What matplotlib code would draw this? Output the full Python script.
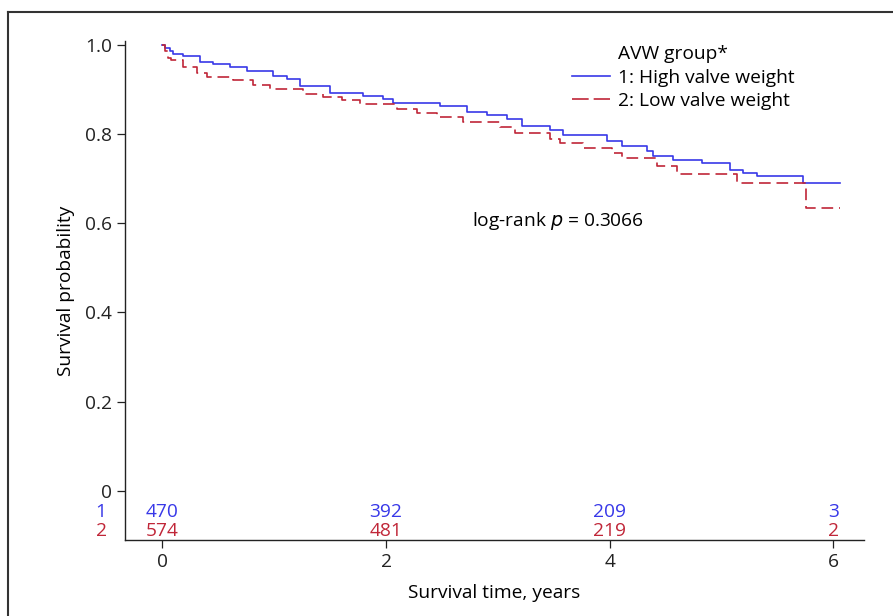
# Kaplan-Meier survival by AVW group
import matplotlib
matplotlib.use("Agg")
import matplotlib.pyplot as plt
from matplotlib.lines import Line2D

plt.rcParams['font.family'] = ['Open Sans', 'DejaVu Sans']

# group 1: high valve weight (step times in years, survival after step)
t_high = [0, 0.02, 0.07, 0.09, 0.18, 0.34, 0.45, 0.60, 0.76, 0.99, 1.11, 1.23,
          1.50, 1.79, 1.97, 2.06, 2.48, 2.72, 2.90, 3.08, 3.22, 3.47, 3.58,
          3.98, 4.11, 4.33, 4.39, 4.57, 4.83, 5.08, 5.19, 5.32, 5.73, 6.06]
s_high = [1.0, 0.992, 0.985, 0.979, 0.974, 0.961, 0.957, 0.949, 0.940, 0.929,
          0.922, 0.907, 0.892, 0.886, 0.878, 0.869, 0.862, 0.850, 0.843, 0.833,
          0.818, 0.808, 0.798, 0.783, 0.772, 0.761, 0.750, 0.742, 0.735, 0.720,
          0.712, 0.705, 0.690, 0.690]

# group 2: low valve weight
t_low = [0, 0.02, 0.05, 0.08, 0.18, 0.31, 0.40, 0.63, 0.81, 0.96, 1.26, 1.44,
         1.61, 1.77, 2.10, 2.28, 2.46, 2.69, 3.02, 3.15, 3.47, 3.56, 3.76,
         4.02, 4.11, 4.42, 4.60, 5.14, 5.76, 6.06]
s_low = [1.0, 0.985, 0.971, 0.966, 0.951, 0.937, 0.927, 0.920, 0.910, 0.901,
         0.889, 0.882, 0.875, 0.866, 0.856, 0.847, 0.837, 0.827, 0.815, 0.803,
         0.789, 0.780, 0.768, 0.758, 0.746, 0.728, 0.711, 0.690, 0.634, 0.634]

# numbers at risk
risk_times = [0, 2, 4, 6]
risk_high = [470, 392, 209, 3]
risk_low = [574, 481, 219, 2]

blue = '#3838e8'
red = '#c02638'
fs = 13.8

fig = plt.figure(figsize=(8.93, 6.16), dpi=100)
ax = fig.add_axes([0.140, 0.123, 0.8275, 0.811])

ax.step(t_high, s_high, where='post', color=blue, lw=1.2)
ax.step(t_low, s_low, where='post', color=red, lw=1.2, dashes=(7, 3.5))

ax.set_xlim(-0.335, 6.275)
ax.set_ylim(-0.1106, 1.009)
ax.spines['top'].set_visible(False)
ax.spines['right'].set_visible(False)
for sp in ax.spines.values():
    sp.set_linewidth(1.0)
    sp.set_color('#222222')

ax.set_xticks([0, 2, 4, 6])
ax.set_yticks([0, 0.2, 0.4, 0.6, 0.8, 1.0])
ax.set_yticklabels(['0', '0.2', '0.4', '0.6', '0.8', '1.0'])
ax.tick_params(axis='both', labelsize=fs, length=5.5, width=0.9, pad=4, colors='#222222')

ax.set_ylabel('Survival probability', fontsize=fs, labelpad=7)
ax.set_xlabel('Survival time, years', fontsize=fs, labelpad=9)

# number at risk rows
for i in range(len(risk_times)):
    ax.text(risk_times[i], -0.0466, str(risk_high[i]), color=blue, fontsize=fs,
            ha='center', va='center')
    ax.text(risk_times[i], -0.0897, str(risk_low[i]), color=red, fontsize=fs,
            ha='center', va='center')
ax.text(-0.5, -0.0466, '1', color=blue, fontsize=fs, ha='right', va='center', clip_on=False)
ax.text(-0.5, -0.0897, '2', color=red, fontsize=fs, ha='right', va='center', clip_on=False)

ax.text(2.77, 0.605, 'log-rank $p$ = 0.3066', fontsize=fs, ha='left', va='center')

# legend with title as first (blank) entry so it lines up with labels
handles = [Line2D([], [], color='none'),
           Line2D([], [], color=blue, lw=1.2),
           Line2D([], [], color=red, lw=1.2, dashes=(10, 3))]
labels = ['AVW group*', '1: High valve weight', '2: Low valve weight']
ax.legend(handles, labels, loc='upper left', bbox_to_anchor=(0.605, 0.991),
          frameon=False, fontsize=fs, handlelength=2.0, handletextpad=0.37,
          labelspacing=0.28, borderpad=0, borderaxespad=0)

# partial frame round the figure
fig.add_artist(Line2D([0.009, 0.009], [0, 0.981], color='#333333', lw=1.5))
fig.add_artist(Line2D([0.009, 1], [0.981, 0.981], color='#333333', lw=1.5))

fig.savefig('out.png', dpi=100)
